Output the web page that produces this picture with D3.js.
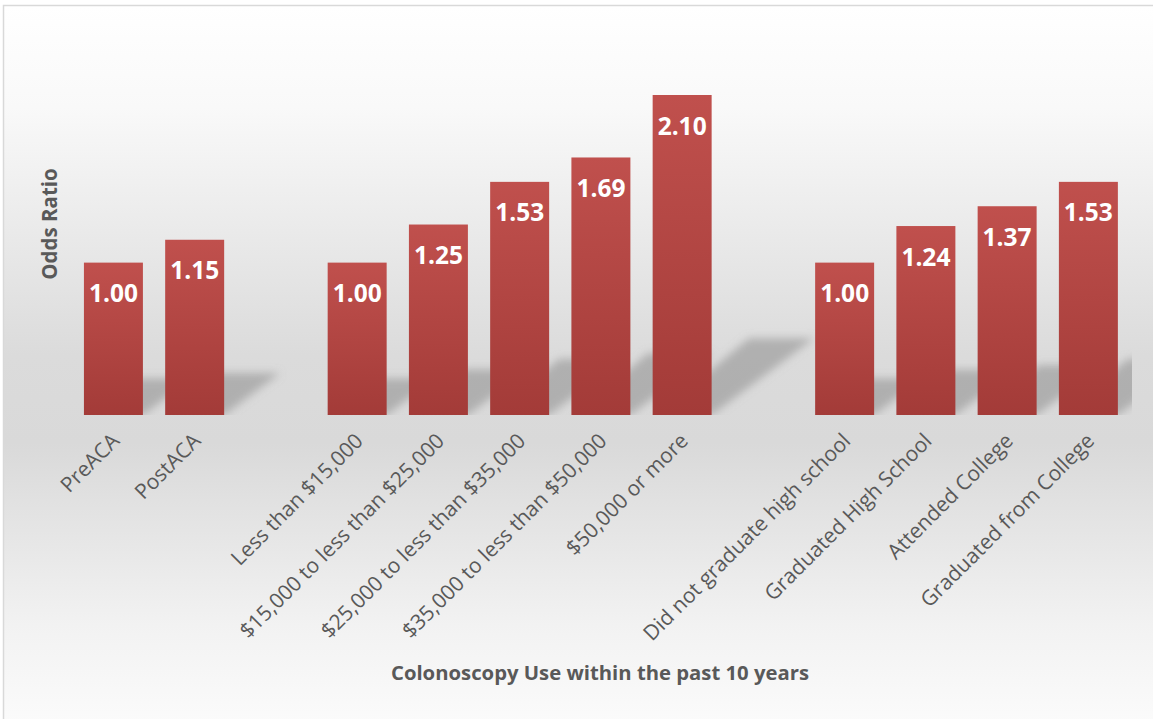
<!DOCTYPE html>
<html>
<head>
<meta charset="utf-8">
<script src="https://cdn.jsdelivr.net/npm/d3@7"></script>
<style>
  html, body { margin: 0; padding: 0; background: #ffffff; }
  svg { display: block; }
</style>
</head>
<body>
<div id="chart"></div>
<script>
// ---- data ----
const categories = [
  "PreACA", "PostACA", "",
  "Less than $15,000", "$15,000 to less than $25,000", "$25,000 to less than $35,000",
  "$35,000 to less than $50,000", "$50,000 or more", "",
  "Did not graduate high school", "Graduated High School", "Attended College", "Graduated from College"
];
const oddsRatios = [1.00, 1.15, null, 1.00, 1.25, 1.53, 1.69, 2.10, null, 1.00, 1.24, 1.37, 1.53];
const valueLabels = ["1.00", "1.15", "", "1.00", "1.25", "1.53", "1.69", "2.10", "", "1.00", "1.24", "1.37", "1.53"];
const yAxisTitle = "Odds Ratio";
const xAxisTitle = "Colonoscopy Use within the past 10 years";

const W = 1153, H = 719;
const plotLeft = 72.8, plotRight = 1129;
const plotTop = 95, baseY = 415;

const svg = d3.select("#chart").append("svg").attr("width", W).attr("height", H);
const defs = svg.append("defs");

// background gradient
const bg = defs.append("linearGradient").attr("id", "bg").attr("x1", 0).attr("y1", 0).attr("x2", 0).attr("y2", 1);
[[0, "#ffffff"], [0.14, "#f9f9f9"], [0.48, "#dbdbdb"], [0.6, "#d9d9d9"], [0.85, "#f2f2f2"], [1, "#fcfcfc"]]
  .forEach(([o, c]) => bg.append("stop").attr("offset", o).attr("stop-color", c));

const barGrad = defs.append("linearGradient").attr("id", "barGrad").attr("x1", 0).attr("y1", 0).attr("x2", 0).attr("y2", 1);
barGrad.append("stop").attr("offset", 0).attr("stop-color", "#c0504d");
barGrad.append("stop").attr("offset", 1).attr("stop-color", "#a33b38");

const blur = defs.append("filter").attr("id", "blur").attr("x", "-20%").attr("y", "-20%").attr("width", "140%").attr("height", "140%");
blur.append("feGaussianBlur").attr("stdDeviation", 4);

const clip = defs.append("clipPath").attr("id", "plotClip");

svg.append("rect").attr("x", 3.5).attr("y", 5.5).attr("width", W + 10).attr("height", H + 10)
  .attr("fill", "url(#bg)").attr("stroke", "#d9d9d9").attr("stroke-width", 1.5);

const idx = categories.map((d, i) => i);
const x = d3.scaleBand().domain(idx).range([plotLeft, plotRight])
  .paddingInner(0.274).paddingOuter(0.137);
const y = d3.scaleLinear().domain([0, 2.1]).range([baseY, plotTop]);

clip.append("rect").attr("x", plotLeft).attr("y", 0).attr("width", plotRight + 3 - plotLeft).attr("height", baseY);

const data = idx.filter(i => oddsRatios[i] != null).map(i => ({ i, v: oddsRatios[i], label: valueLabels[i] }));

// shadows
const shadowG = svg.append("g").attr("clip-path", "url(#plotClip)").append("g").attr("filter", "url(#blur)");
shadowG.selectAll("path").data(data).join("path")
  .attr("d", d => {
    const h = baseY - y(d.v);
    const x0 = x(d.i) + 4, x1 = x(d.i) + x.bandwidth();
    const dx = 0.32 * h, dy = 0.24 * h;
    return `M${x0},${baseY}L${x1},${baseY}L${x1 + dx},${baseY - dy}L${x0 + dx - 10},${baseY - dy}Z`;
  })
  .attr("fill", "#8c8c8c").attr("opacity", 0.55);

// bars
svg.append("g").selectAll("rect").data(data).join("rect")
  .attr("x", d => x(d.i)).attr("width", x.bandwidth())
  .attr("y", d => y(d.v)).attr("height", d => baseY - y(d.v))
  .attr("fill", "url(#barGrad)");

// value labels
svg.append("g").selectAll("text").data(data).join("text")
  .attr("x", d => x(d.i) + x.bandwidth() / 2)
  .attr("y", d => y(d.v) + 31)
  .attr("dy", "0.35em")
  .attr("text-anchor", "middle")
  .attr("font-family", "'Open Sans', sans-serif")
  .attr("font-weight", "bold")
  .attr("font-size", 24.5)
  .attr("fill", "#ffffff")
  .text(d => d.label);

// x axis tick labels
const xAxis = d3.axisBottom(x).tickSize(0).tickPadding(0).tickFormat(i => categories[i]);
const gx = svg.append("g").attr("transform", `translate(0,${baseY})`).call(xAxis);
gx.select(".domain").remove();
gx.selectAll(".tick text")
  .attr("font-family", "'Open Sans', sans-serif")
  .attr("font-size", 21)
  .attr("fill", "#595959")
  .attr("text-anchor", "end")
  .attr("dy", "0.35em")
  .attr("y", 0)
  .attr("transform", "translate(2,22) rotate(-45)");

// axis titles
svg.append("text")
  .attr("transform", `translate(57,224) rotate(-90)`)
  .attr("text-anchor", "middle")
  .attr("font-family", "'Open Sans', sans-serif")
  .attr("font-weight", "bold")
  .attr("font-size", 20.5)
  .attr("fill", "#595959")
  .text(yAxisTitle);

svg.append("text")
  .attr("x", 600).attr("y", 673)
  .attr("dy", "0.35em")
  .attr("text-anchor", "middle")
  .attr("font-family", "'Open Sans', sans-serif")
  .attr("font-weight", "bold")
  .attr("font-size", 20.3)
  .attr("fill", "#595959")
  .text(xAxisTitle);
</script>
</body>
</html>
